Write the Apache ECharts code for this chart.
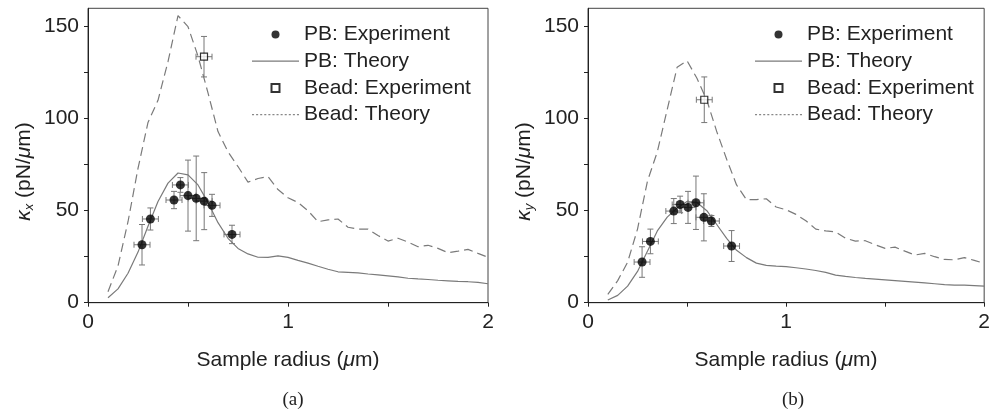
<!DOCTYPE html>
<html>
<head>
<meta charset="utf-8">
<script src="https://cdn.jsdelivr.net/npm/echarts@6/dist/echarts.min.js"></script>
<style>
html, body { margin: 0; padding: 0; background: #fff; }
#main { width: 993px; height: 411px; }
</style>
</head>
<body>
<div id="main"></div>
<script>
// sample radius grid used by the theory curves (um)
var theoryX = [0.10, 0.15, 0.20, 0.25, 0.30, 0.35, 0.40, 0.45, 0.50, 0.55, 0.60, 0.65, 0.70, 0.75, 0.80, 0.85, 0.90, 0.95, 1.00,
    1.05, 1.10, 1.15, 1.20, 1.25, 1.30, 1.35, 1.40, 1.45, 1.50, 1.55, 1.60, 1.65, 1.70, 1.75, 1.80, 1.85, 1.90, 1.95, 2.00];

// (a) kappa_x
var pbTheoryA = [2.7, 7.5, 16, 27.5, 41.5, 55, 65, 70.5, 69.5, 64, 54.5, 43.5, 35, 29.5, 26.5, 24.7, 24.6, 25.4, 24.6,
    23, 21.5, 19.8, 18.2, 16.8, 16.5, 16.2, 15.6, 15.1, 14.6, 14, 13.3, 12.9, 12.6, 12.2, 11.9, 11.6, 11.4, 11, 10.3];
var beadTheoryA = [6, 20, 44, 73, 98, 110, 131, 156, 150, 134, 114, 93, 82, 74, 65.5, 67.5, 68.5, 61.5, 57,
    54.5, 50, 44, 45, 45.5, 41, 40, 40, 36.5, 33.5, 35, 33, 30.4, 31.2, 29.5, 27.2, 28, 29, 26.8, 24.7];
var pbExpXA = [0.27, 0.312, 0.43, 0.462, 0.5, 0.541, 0.581, 0.62, 0.72];
var pbExpYA = [31.5, 45.5, 55.8, 64, 58.2, 56.7, 55.2, 52.9, 37.1];
var pbExpYErrA = [11, 6, 4.7, 4, 19.3, 23, 15.5, 6, 5];
var pbExpXErrA = [0.04, 0.04, 0.04, 0.04, 0.04, 0.04, 0.04, 0.04, 0.04];
var beadExpXA = [0.58];
var beadExpYA = [133.7];
var beadExpYErrA = [11];
var beadExpXErrA = [0.04];

// (b) kappa_y
var pbTheoryB = [1.5, 4, 9, 17, 28, 39, 46.5, 51.5, 55, 54.5, 50, 42.5, 35, 28.5, 24.5, 21.5, 20.3, 19.9, 19.6,
    19, 18.3, 17.5, 16.5, 15, 14.3, 13.7, 13.2, 12.8, 12.4, 12, 11.6, 11.2, 10.8, 10.3, 9.8, 9.6, 9.5, 9.3, 9];
var beadTheoryB = [4.5, 12, 22, 40, 66, 82, 105, 128, 131.5, 122, 110, 93, 78, 64, 56, 56, 56.5, 52, 50.5,
    48, 44.5, 40, 39, 38.5, 35, 33.5, 33.7, 31.5, 29.5, 30.2, 28, 25.9, 26.8, 25, 23.5, 23.3, 24.5, 23, 21.4];
var pbExpXB = [0.273, 0.315, 0.433, 0.465, 0.505, 0.545, 0.585, 0.623, 0.725];
var pbExpYB = [22.1, 33.3, 49.8, 53.4, 51.8, 54.3, 46.4, 44.4, 30.8];
var pbExpYErrB = [8.3, 6.7, 6.8, 4.5, 8.7, 14.5, 12.8, 3, 8.4];
var pbExpXErrB = [0.04, 0.04, 0.04, 0.04, 0.04, 0.04, 0.04, 0.04, 0.04];
var beadExpXB = [0.587];
var beadExpYB = [110.3];
var beadExpYErrB = [12.4];
var beadExpXErrB = [0.04];

var xTicks = [0, 0.5, 1, 1.5, 2];
var xLabels = [0, 1, 2];
var yTicks = [0, 25, 50, 75, 100, 125, 150];
var yLabels = [0, 50, 100, 150];
var legendNames = ['PB: Experiment', 'PB: Theory', 'Bead: Experiment', 'Bead: Theory'];

var FONT = 'Liberation Sans, Arial, sans-serif';
var FS = 21;
var LINE_GRAY = '#7a7a7a';

// legend icons drawn as thin paths (solid and fine-dashed line samples)
var solidIcon = 'path://M0,0H47V1.2H0Z';
var dashIcon = 'path://';
for (var k = 0; k < 47; k += 4) {
    dashIcon += 'M' + k + ',0H' + (k + 2) + 'V1.2H' + k + 'Z';
}
var squareIcon = 'path://M0,0H10V10H0Z';

function zip2(xs, ys) {
    return xs.map(function (x, i) { return [x, ys[i]]; });
}
function zip4(xs, ys, ye, xe) {
    return xs.map(function (x, i) { return [x, ys[i], ye[i], xe[i]]; });
}

function renderErr(params, api) {
    var x = api.value(0), y = api.value(1), ye = api.value(2), xe = api.value(3);
    var top = api.coord([x, y + ye]);
    var bot = api.coord([x, y - ye]);
    var lft = api.coord([x - xe, y]);
    var rgt = api.coord([x + xe, y]);
    var c = 3;
    var st = { stroke: '#777', lineWidth: 1 };
    var seg = function (x1, y1, x2, y2) {
        return { type: 'line', shape: { x1: x1, y1: y1, x2: x2, y2: y2 }, style: st };
    };
    return {
        type: 'group',
        children: [
            seg(top[0], top[1], bot[0], bot[1]),
            seg(top[0] - c, top[1], top[0] + c, top[1]),
            seg(bot[0] - c, bot[1], bot[0] + c, bot[1]),
            seg(lft[0], lft[1], rgt[0], rgt[1]),
            seg(lft[0], lft[1] - c, lft[0], lft[1] + c),
            seg(rgt[0], rgt[1] - c, rgt[0], rgt[1] + c)
        ]
    };
}

function makeXAxis(idx) {
    return {
        type: 'value', gridIndex: idx, min: 0, max: 2,
        name: 'Sample radius ({m|\u03bc}m)', nameLocation: 'middle', nameGap: 47,
        nameTextStyle: {
            fontFamily: FONT, fontSize: FS, color: '#222',
            rich: { m: { fontFamily: FONT, fontSize: FS, fontStyle: 'italic', color: '#222' } }
        },
        axisLine: { lineStyle: { color: '#222', width: 1 } },
        axisTick: { inside: false, length: 4, customValues: xTicks, lineStyle: { color: '#222' } },
        axisLabel: { customValues: xLabels, margin: 9, fontFamily: FONT, fontSize: FS, color: '#222' },
        splitLine: { show: false }
    };
}

function makeYAxis(idx, sub) {
    return {
        type: 'value', gridIndex: idx, min: 0, max: 160,
        name: '{k|\u03ba}{s|' + sub + '} (pN/{m|\u03bc}m)', nameLocation: 'middle', nameGap: 52,
        nameTextStyle: {
            fontFamily: FONT, fontSize: FS, color: '#222', padding: [0, 32, 0, 0],
            rich: {
                k: { fontFamily: FONT, fontSize: FS, fontStyle: 'italic', color: '#222' },
                s: { fontFamily: FONT, fontSize: 13, fontStyle: 'italic', color: '#222', padding: [10, 0, 0, 0] },
                m: { fontFamily: FONT, fontSize: FS, fontStyle: 'italic', color: '#222' }
            }
        },
        axisLine: { show: true, lineStyle: { color: '#222', width: 1 } },
        axisTick: { show: true, inside: false, length: 4, customValues: yTicks, lineStyle: { color: '#222' } },
        axisLabel: { customValues: yLabels, margin: 9, fontFamily: FONT, fontSize: FS, color: '#222' },
        splitLine: { show: false }
    };
}

function makeLegend(left) {
    return {
        orient: 'vertical', left: left, top: 24, padding: 0,
        itemWidth: 47, itemHeight: 8, itemGap: 5.7,
        selectedMode: false, symbolKeepAspect: true,
        textStyle: { fontFamily: FONT, fontSize: FS, color: '#222', lineHeight: 21 },
        data: [
            { name: legendNames[0], icon: 'circle' },
            { name: legendNames[1], icon: solidIcon, itemStyle: { color: LINE_GRAY } },
            { name: legendNames[2], icon: squareIcon },
            { name: legendNames[3], icon: dashIcon, itemStyle: { color: '#888' } }
        ]
    };
}

function panelSeries(idx, pbT, beadT, pbE, beadE) {
    return [
        {
            name: 'err-pb-' + idx, type: 'custom', xAxisIndex: idx, yAxisIndex: idx,
            renderItem: renderErr, data: pbE, z: 3, silent: true
        },
        {
            name: 'err-bead-' + idx, type: 'custom', xAxisIndex: idx, yAxisIndex: idx,
            renderItem: renderErr, data: beadE, z: 3, silent: true
        },
        {
            name: legendNames[1], type: 'line', xAxisIndex: idx, yAxisIndex: idx,
            data: zip2(theoryX, pbT), symbol: 'none', smooth: false,
            lineStyle: { color: LINE_GRAY, width: 1.2 }, itemStyle: { color: LINE_GRAY }, z: 2
        },
        {
            name: legendNames[3], type: 'line', xAxisIndex: idx, yAxisIndex: idx,
            data: zip2(theoryX, beadT), symbol: 'none',
            lineStyle: { color: LINE_GRAY, width: 1.2, type: [9, 5] }, itemStyle: { color: LINE_GRAY }, z: 2
        },
        {
            name: legendNames[0], type: 'scatter', xAxisIndex: idx, yAxisIndex: idx,
            data: pbE.map(function (d) { return [d[0], d[1]]; }), symbol: 'circle', symbolSize: 9,
            itemStyle: { color: '#000' }, z: 5
        },
        {
            name: legendNames[2], type: 'scatter', xAxisIndex: idx, yAxisIndex: idx,
            data: beadE.map(function (d) { return [d[0], d[1]]; }), symbol: 'rect', symbolSize: 7,
            itemStyle: { color: '#fff', borderColor: '#000', borderWidth: 1.2 }, z: 5
        }
    ];
}

var myChart = echarts.init(document.getElementById('main'), null, { renderer: 'canvas' });

var option = {
    animation: false,
    backgroundColor: '#fff',
    title: [
        { text: '(a)', left: 288, top: 386, textAlign: 'center',
          textStyle: { fontFamily: 'Liberation Serif, Times New Roman, serif', fontSize: 19, fontWeight: 'normal', color: '#222' } },
        { text: '(b)', left: 788, top: 386, textAlign: 'center',
          textStyle: { fontFamily: 'Liberation Serif, Times New Roman, serif', fontSize: 19, fontWeight: 'normal', color: '#222' } }
    ],
    legend: [makeLegend(252), makeLegend(755)],
    grid: [
        { left: 88, top: 8.3, width: 400, height: 294.4, show: true, borderColor: '#444', borderWidth: 1, containLabel: false },
        { left: 588, top: 8.3, width: 400, height: 294.4, show: true, borderColor: '#444', borderWidth: 1, containLabel: false }
    ],
    xAxis: [makeXAxis(0), makeXAxis(1)],
    yAxis: [makeYAxis(0, 'x'), makeYAxis(1, 'y')],
    series: panelSeries(0, pbTheoryA, beadTheoryA,
            zip4(pbExpXA, pbExpYA, pbExpYErrA, pbExpXErrA),
            zip4(beadExpXA, beadExpYA, beadExpYErrA, beadExpXErrA))
        .concat(panelSeries(1, pbTheoryB, beadTheoryB,
            zip4(pbExpXB, pbExpYB, pbExpYErrB, pbExpXErrB),
            zip4(beadExpXB, beadExpYB, beadExpYErrB, beadExpXErrB)))
};

myChart.setOption(option);
</script>
</body>
</html>
